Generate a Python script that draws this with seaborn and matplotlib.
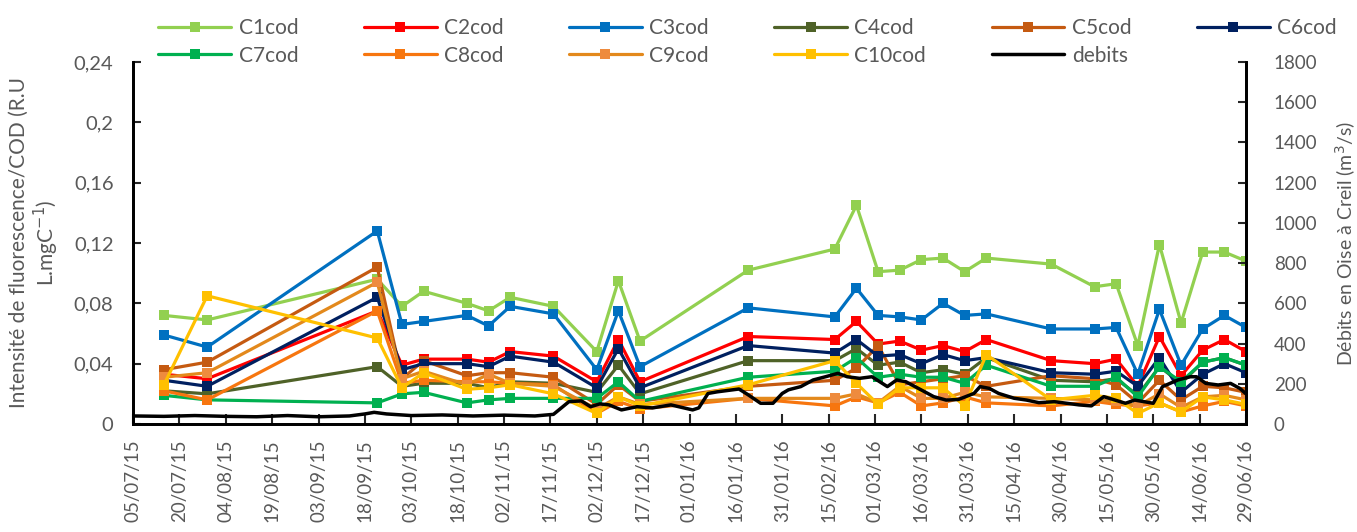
import numpy as np
import pandas as pd
import matplotlib
matplotlib.use("Agg")
import matplotlib.pyplot as plt
import matplotlib.dates as mdates
from matplotlib.ticker import FuncFormatter, MultipleLocator
import seaborn as sns

# sampling dates (weekly campaigns)
sample_dates = ["2015-07-15", "2015-07-29", "2015-09-22", "2015-09-30", "2015-10-07",
                "2015-10-21", "2015-10-28", "2015-11-04", "2015-11-18", "2015-12-02",
                "2015-12-09", "2015-12-16", "2016-01-20", "2016-02-17", "2016-02-24",
                "2016-03-02", "2016-03-09", "2016-03-16", "2016-03-23", "2016-03-30",
                "2016-04-06", "2016-04-27", "2016-05-11", "2016-05-18", "2016-05-25",
                "2016-06-01", "2016-06-08", "2016-06-15", "2016-06-22", "2016-06-29"]

c1 = [0.072, 0.069, 0.096, 0.078, 0.088, 0.080, 0.075, 0.084, 0.078, 0.048,
      0.095, 0.055, 0.102, 0.116, 0.145, 0.101, 0.102, 0.109, 0.110, 0.101,
      0.110, 0.106, 0.091, 0.093, 0.052, 0.119, 0.067, 0.114, 0.114, 0.108]
c2 = [0.033, 0.030, 0.075, 0.039, 0.043, 0.043, 0.041, 0.048, 0.045, 0.028,
      0.056, 0.028, 0.058, 0.056, 0.068, 0.053, 0.055, 0.049, 0.052, 0.048,
      0.056, 0.042, 0.040, 0.043, 0.025, 0.058, 0.032, 0.049, 0.056, 0.048]
c3 = [0.059, 0.051, 0.128, 0.066, 0.068, 0.072, 0.065, 0.078, 0.073, 0.036,
      0.075, 0.038, 0.077, 0.071, 0.090, 0.072, 0.071, 0.069, 0.080, 0.072,
      0.073, 0.063, 0.063, 0.064, 0.033, 0.076, 0.039, 0.063, 0.072, 0.064]
c4 = [0.022, 0.020, 0.038, 0.025, 0.027, 0.027, 0.024, 0.028, 0.027, 0.021,
      0.039, 0.020, 0.042, 0.042, 0.050, 0.039, 0.041, 0.034, 0.036, 0.033,
      0.044, 0.029, 0.028, 0.030, 0.019, 0.038, 0.027, 0.041, 0.044, 0.039]
c5 = [0.036, 0.041, 0.104, 0.030, 0.042, 0.032, 0.034, 0.034, 0.031, 0.013,
      0.026, 0.015, 0.025, 0.029, 0.037, 0.052, 0.026, 0.028, 0.030, 0.032,
      0.025, 0.032, 0.030, 0.026, 0.014, 0.029, 0.016, 0.025, 0.024, 0.021]
c6 = [0.029, 0.025, 0.084, 0.036, 0.040, 0.040, 0.038, 0.045, 0.041, 0.024,
      0.050, 0.024, 0.052, 0.047, 0.056, 0.045, 0.046, 0.040, 0.046, 0.042,
      0.044, 0.034, 0.033, 0.035, 0.025, 0.044, 0.021, 0.033, 0.040, 0.034]
c7 = [0.019, 0.016, 0.014, 0.020, 0.021, 0.014, 0.016, 0.017, 0.017, 0.017,
      0.028, 0.015, 0.031, 0.035, 0.044, 0.031, 0.033, 0.031, 0.031, 0.027,
      0.039, 0.025, 0.025, 0.031, 0.018, 0.038, 0.028, 0.041, 0.044, 0.039]
c8 = [0.022, 0.016, 0.075, 0.027, 0.029, 0.028, 0.028, 0.027, 0.026, 0.007,
      0.015, 0.010, 0.017, 0.012, 0.018, 0.014, 0.021, 0.012, 0.014, 0.018,
      0.014, 0.012, 0.015, 0.013, 0.012, 0.014, 0.008, 0.012, 0.015, 0.012]
c9 = [0.031, 0.034, 0.094, 0.030, 0.035, 0.026, 0.033, 0.027, 0.025, 0.010,
      0.018, 0.013, 0.017, 0.017, 0.020, 0.014, 0.025, 0.017, 0.017, 0.021,
      0.018, 0.017, 0.016, 0.015, 0.012, 0.020, 0.011, 0.018, 0.019, 0.016]
c10 = [0.026, 0.085, 0.057, 0.024, 0.034, 0.023, 0.024, 0.026, 0.020, 0.007,
       0.018, 0.012, 0.026, 0.042, 0.027, 0.013, 0.024, 0.024, 0.024, 0.012,
       0.046, 0.016, 0.019, 0.017, 0.007, 0.014, 0.008, 0.018, 0.016, 0.013]

series_names = ["C1cod", "C2cod", "C3cod", "C4cod", "C5cod",
                "C6cod", "C7cod", "C8cod", "C9cod", "C10cod"]
series_values = [c1, c2, c3, c4, c5, c6, c7, c8, c9, c10]
line_colors = ["#92D050", "#FF0000", "#0070C0", "#4F6228", "#C55A11",
               "#002060", "#00B050", "#F7760F", "#E3891C", "#FFC000"]
marker_colors = ["#92D050", "#FF0000", "#0070C0", "#4F6228", "#C55A11",
                 "#002060", "#00B050", "#F7760F", "#EE8B3E", "#FFC000"]

# river discharge at Creil (m3/s)
flow_dates = ["2015-07-05", "2015-07-15", "2015-07-25", "2015-08-04", "2015-08-14",
              "2015-08-24", "2015-09-03", "2015-09-13", "2015-09-18", "2015-09-21",
              "2015-09-25", "2015-10-03", "2015-10-13", "2015-10-23", "2015-11-02",
              "2015-11-12", "2015-11-18", "2015-11-23", "2015-11-27", "2015-11-30",
              "2015-12-03", "2015-12-06", "2015-12-10", "2015-12-15", "2015-12-20",
              "2015-12-26", "2016-01-02", "2016-01-04", "2016-01-07", "2016-01-10",
              "2016-01-15", "2016-01-17", "2016-01-20", "2016-01-24", "2016-01-28",
              "2016-01-31", "2016-02-02", "2016-02-06", "2016-02-10", "2016-02-14",
              "2016-02-18", "2016-02-21", "2016-02-25", "2016-02-29", "2016-03-05",
              "2016-03-08", "2016-03-11", "2016-03-16", "2016-03-20", "2016-03-24",
              "2016-03-28", "2016-04-02", "2016-04-04", "2016-04-07", "2016-04-10",
              "2016-04-15", "2016-04-19", "2016-04-23", "2016-04-28", "2016-05-02",
              "2016-05-06", "2016-05-10", "2016-05-14", "2016-05-17", "2016-05-21",
              "2016-05-24", "2016-05-27", "2016-05-30", "2016-06-02", "2016-06-07",
              "2016-06-11", "2016-06-13", "2016-06-16", "2016-06-20", "2016-06-24",
              "2016-06-27", "2016-06-29"]
flow_values = [40, 38, 42, 38, 36, 42, 36, 40, 50, 58,
               50, 42, 45, 40, 44, 40, 48, 111, 115, 86,
               100, 95, 70, 86, 80, 95, 70, 80, 152, 160,
               170, 174, 145, 103, 103, 152, 170, 186, 219, 235,
               252, 235, 227, 235, 186, 219, 210, 169, 136, 119,
               122, 152, 186, 177, 152, 128, 119, 106, 111, 103,
               95, 90, 136, 122, 103, 119, 111, 103, 186, 219,
               235, 235, 202, 194, 202, 177, 150]

sns.set_style("ticks")
plt.rcParams["font.family"] = ["Lato", "DejaVu Sans"]
grey = "#595959"

fig = plt.figure(figsize=(13.57, 5.32), dpi=100)
ax = fig.add_axes([133 / 1357, 1 - 424 / 532, (1246 - 133) / 1357, (424 - 62) / 532])
ax2 = ax.twinx()

x_samples = pd.to_datetime(sample_dates)
for name, vals, lc, mc in zip(series_names, series_values, line_colors, marker_colors):
    sns.lineplot(x=x_samples, y=vals, ax=ax, color=lc, lw=2.3, marker="s",
                 markersize=7, markerfacecolor=mc, markeredgecolor=mc,
                 markeredgewidth=0, label=name, sort=False, estimator=None)

sns.lineplot(x=pd.to_datetime(flow_dates), y=flow_values, ax=ax2, color="black",
             lw=2.5, label="debits", sort=False, estimator=None)

# axes limits and ticks
start, end = pd.Timestamp("2015-07-05"), pd.Timestamp("2016-06-29")
ax.set_xlim(start, end)
ax.set_ylim(0, 0.24)
ax2.set_ylim(0, 1800)
ax.set_xticks(pd.date_range(start, end, freq="15D"))
ax.xaxis.set_major_formatter(mdates.DateFormatter("%d/%m/%y"))
ax.yaxis.set_major_locator(MultipleLocator(0.04))
ax.yaxis.set_major_formatter(FuncFormatter(lambda v, p: "0" if abs(v) < 1e-9 else f"{v:.2f}".rstrip("0").replace(".", ",")))
ax2.yaxis.set_major_locator(MultipleLocator(200))

ax.tick_params(axis="x", direction="in", length=7, width=1.5, labelsize=13.5,
               labelcolor=grey, rotation=90, pad=11)
ax.tick_params(axis="y", direction="in", length=6, width=1.5, labelsize=14.5,
               labelcolor=grey, pad=14)
ax2.tick_params(axis="y", direction="in", length=6, width=1.5, labelsize=13.5,
                labelcolor=grey, pad=20)

for a in (ax, ax2):
    a.spines["top"].set_visible(False)
    for s in ("left", "right", "bottom"):
        a.spines[s].set_linewidth(2)
        a.spines[s].set_color("black")
    a.set_xlabel("")

ax.set_ylabel("Intensité de fluorescence/COD (R.U\nL.mgC$^{-1}$)", fontsize=15,
              color=grey, linespacing=1.15)
ax.yaxis.set_label_coords((61 - 133) / 1113, 0.5)
ax2.set_ylabel("Débits en Oise à Creil (m$^{3}$/s)", fontsize=14, color=grey)
ax2.yaxis.set_label_coords((1333 - 133) / 1113, 0.5)

# legend in two rows, filled row by row
h1, l1 = ax.get_legend_handles_labels()
h2, l2 = ax2.get_legend_handles_labels()
ax.get_legend().remove()
ax2.get_legend().remove()
handles = dict(zip(l1 + l2, h1 + h2))
order = ["C1cod", "C7cod", "C2cod", "C8cod", "C3cod", "C9cod",
         "C4cod", "C10cod", "C5cod", "debits", "C6cod"]
leg = fig.legend([handles[k] for k in order], order, ncol=6, loc="upper left",
                 bbox_to_anchor=(150 / 1357, 1 - 10 / 532, (1345 - 150) / 1357, 0.0),
                 mode="expand", frameon=False, fontsize=15, handlelength=3.5,
                 handletextpad=0.35, labelspacing=0.35, borderaxespad=0.0)
for t in leg.get_texts():
    t.set_color(grey)

fig.savefig("out.png", dpi=100)
